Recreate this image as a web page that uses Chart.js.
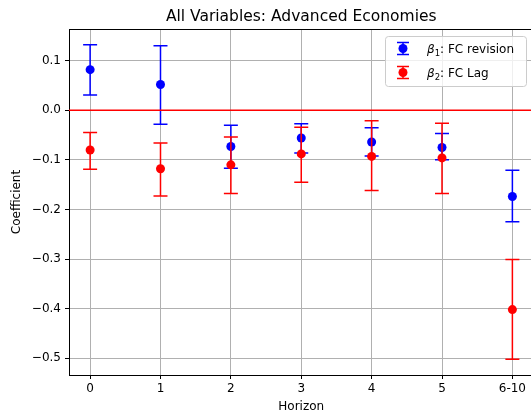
<!DOCTYPE html>
<html>
<head>
<meta charset="utf-8">
<script src="https://cdn.jsdelivr.net/npm/chart.js@4.4.0/dist/chart.umd.min.js"></script>
<style>
    html, body { margin: 0; padding: 0; background: #fff; }
    #wrap { width: 531px; height: 417px; overflow: hidden; position: relative; }
    canvas { display: block; }
</style>
</head>
<body>
<!-- canvas is a bit wider than the window: the right spine falls just outside, as in the original figure -->
<div id="wrap"><canvas id="chart" width="538" height="417"></canvas></div>
<script>
// Horizons and the coefficients with their confidence bounds
const horizons = ['0', '1', '2', '3', '4', '5', '6-10'];
const revisionCoef = [0.082, 0.052, -0.073, -0.056, -0.064, -0.075, -0.174];
const revisionLow  = [0.031, -0.028, -0.117, -0.086, -0.092, -0.100, -0.225];
const revisionHigh = [0.132, 0.130, -0.030, -0.027, -0.035, -0.047, -0.121];
const lagCoef = [-0.080, -0.118, -0.110, -0.088, -0.093, -0.096, -0.402];
const lagLow  = [-0.119, -0.173, -0.168, -0.145, -0.162, -0.168, -0.502];
const lagHigh = [-0.045, -0.066, -0.054, -0.034, -0.021, -0.026, -0.301];
const yTicks = [-0.5, -0.4, -0.3, -0.2, -0.1, 0.0, 0.1];

const FONT = 'DejaVu Sans';

function points(values) {
    return values.map(function (v, i) { return { x: i, y: v }; });
}

// vertical error bars with caps, drawn just before the points of each dataset
const errorBars = {
    id: 'errorBars',
    beforeDatasetDraw(chart, args) {
        const ds = chart.data.datasets[args.index];
        if (!ds.lower) return;
        const ctx = chart.ctx, xs = chart.scales.x, ys = chart.scales.y;
        ctx.save();
        ctx.strokeStyle = ds.backgroundColor;
        ctx.lineWidth = 1.5;
        ds.data.forEach(function (p, i) {
            const px = xs.getPixelForValue(p.x);
            const top = ys.getPixelForValue(ds.upper[i]);
            const bot = ys.getPixelForValue(ds.lower[i]);
            ctx.beginPath();
            ctx.moveTo(px, top); ctx.lineTo(px, bot);
            ctx.moveTo(px - 7, top); ctx.lineTo(px + 7, top);
            ctx.moveTo(px - 7, bot); ctx.lineTo(px + 7, bot);
            ctx.stroke();
        });
        ctx.restore();
    }
};

// zero line, top spine, title and the legend box
const decorations = {
    id: 'decorations',
    afterDatasetsDraw(chart) {
        const ctx = chart.ctx, a = chart.chartArea, ys = chart.scales.y;
        const y0 = ys.getPixelForValue(0);
        ctx.save();
        ctx.strokeStyle = '#ff0000';
        ctx.lineWidth = 1.5;
        ctx.beginPath();
        ctx.moveTo(a.left, y0); ctx.lineTo(a.right, y0);
        ctx.stroke();
        ctx.restore();
    },
    afterDraw(chart) {
        const ctx = chart.ctx, a = chart.chartArea;
        ctx.save();
        ctx.strokeStyle = '#000';
        ctx.lineWidth = 1;
        ctx.beginPath();
        ctx.moveTo(a.left, Math.round(a.top) + 0.5);
        ctx.lineTo(a.right, Math.round(a.top) + 0.5);
        ctx.stroke();

        // title
        ctx.fillStyle = '#000';
        ctx.font = '15.5px "' + FONT + '"';
        ctx.textAlign = 'center';
        ctx.textBaseline = 'alphabetic';
        ctx.fillText('All Variables: Advanced Economies', (a.left + a.right) / 2, 21);

        // legend
        const bx = 385.5, by = 36.5, bw = 141, bh = 50;
        ctx.beginPath();
        ctx.roundRect(bx, by, bw, bh, 3);
        ctx.fillStyle = 'rgba(255,255,255,0.8)';
        ctx.fill();
        ctx.strokeStyle = '#cccccc';
        ctx.stroke();

        const entries = [
            { color: '#0000ff', sub: '1', label: ': FC revision', y: 48.5 },
            { color: '#ff0000', sub: '2', label: ': FC Lag', y: 72.5 }
        ];
        entries.forEach(function (e) {
            const mx = 403;
            ctx.strokeStyle = e.color;
            ctx.lineWidth = 1.5;
            ctx.beginPath();
            ctx.moveTo(mx, e.y - 6); ctx.lineTo(mx, e.y + 6);
            ctx.moveTo(mx - 6, e.y - 6); ctx.lineTo(mx + 6, e.y - 6);
            ctx.moveTo(mx - 6, e.y + 6); ctx.lineTo(mx + 6, e.y + 6);
            ctx.stroke();
            ctx.fillStyle = e.color;
            ctx.beginPath();
            ctx.arc(mx, e.y, 4.5, 0, Math.PI * 2);
            ctx.fill();

            ctx.fillStyle = '#000';
            ctx.textAlign = 'left';
            ctx.textBaseline = 'alphabetic';
            let tx = 427;
            const base = e.y + 4.5;
            ctx.font = 'italic 12px "' + FONT + '"';
            ctx.fillText('\u03b2', tx, base);
            tx += ctx.measureText('\u03b2').width;
            ctx.font = '8.5px "' + FONT + '"';
            ctx.fillText(e.sub, tx, base + 2.5);
            tx += ctx.measureText(e.sub).width;
            ctx.font = '12px "' + FONT + '"';
            ctx.fillText(e.label, tx, base);
        });
        ctx.restore();
    }
};

const ctx = document.getElementById('chart').getContext('2d');
new Chart(ctx, {
    type: 'scatter',
    data: {
        datasets: [
            {
                label: '\u03b2\u2081: FC revision',
                data: points(revisionCoef),
                lower: revisionLow,
                upper: revisionHigh,
                backgroundColor: '#0000ff',
                borderWidth: 0,
                pointRadius: 4.5,
                order: 2
            },
            {
                label: '\u03b2\u2082: FC Lag',
                data: points(lagCoef),
                lower: lagLow,
                upper: lagHigh,
                backgroundColor: '#ff0000',
                borderWidth: 0,
                pointRadius: 4.5,
                order: 1
            }
        ]
    },
    options: {
        responsive: false,
        animation: false,
        devicePixelRatio: 1,
        layout: { padding: { top: 29, left: 0, right: 0, bottom: 0 } },
        plugins: {
            legend: { display: false },
            title: { display: false },
            tooltip: { enabled: false }
        },
        scales: {
            x: {
                type: 'linear',
                min: -0.3,
                max: 6.3,
                afterBuildTicks: function (scale) {
                    scale.ticks = horizons.map(function (_, i) { return { value: i }; });
                },
                afterFit: function (scale) { scale.height = 42; },
                ticks: {
                    callback: function (v) { return horizons[v]; },
                    color: '#000',
                    font: { family: FONT, size: 12 },
                    padding: 3,
                    maxRotation: 0
                },
                grid: { color: '#b0b0b0', tickColor: '#000', tickLength: 4 },
                border: { color: '#000', width: 1 },
                title: {
                    display: true,
                    text: 'Horizon',
                    color: '#000',
                    font: { family: FONT, size: 12 },
                    padding: { bottom: 3 }
                }
            },
            y: {
                min: -0.534,
                max: 0.164,
                afterBuildTicks: function (scale) {
                    scale.ticks = yTicks.map(function (v) { return { value: v }; });
                },
                afterFit: function (scale) { scale.width = 69; },
                ticks: {
                    callback: function (v) { return v.toFixed(1).replace('-', '\u2212'); },
                    color: '#000',
                    font: { family: FONT, size: 12 },
                    padding: 4
                },
                grid: { color: '#b0b0b0', tickColor: '#000', tickLength: 4 },
                border: { color: '#000', width: 1 },
                title: {
                    display: true,
                    text: 'Coefficient',
                    color: '#000',
                    font: { family: FONT, size: 12 },
                    padding: { top: 10 }
                }
            }
        }
    },
    plugins: [errorBars, decorations]
});
</script>
</body>
</html>
